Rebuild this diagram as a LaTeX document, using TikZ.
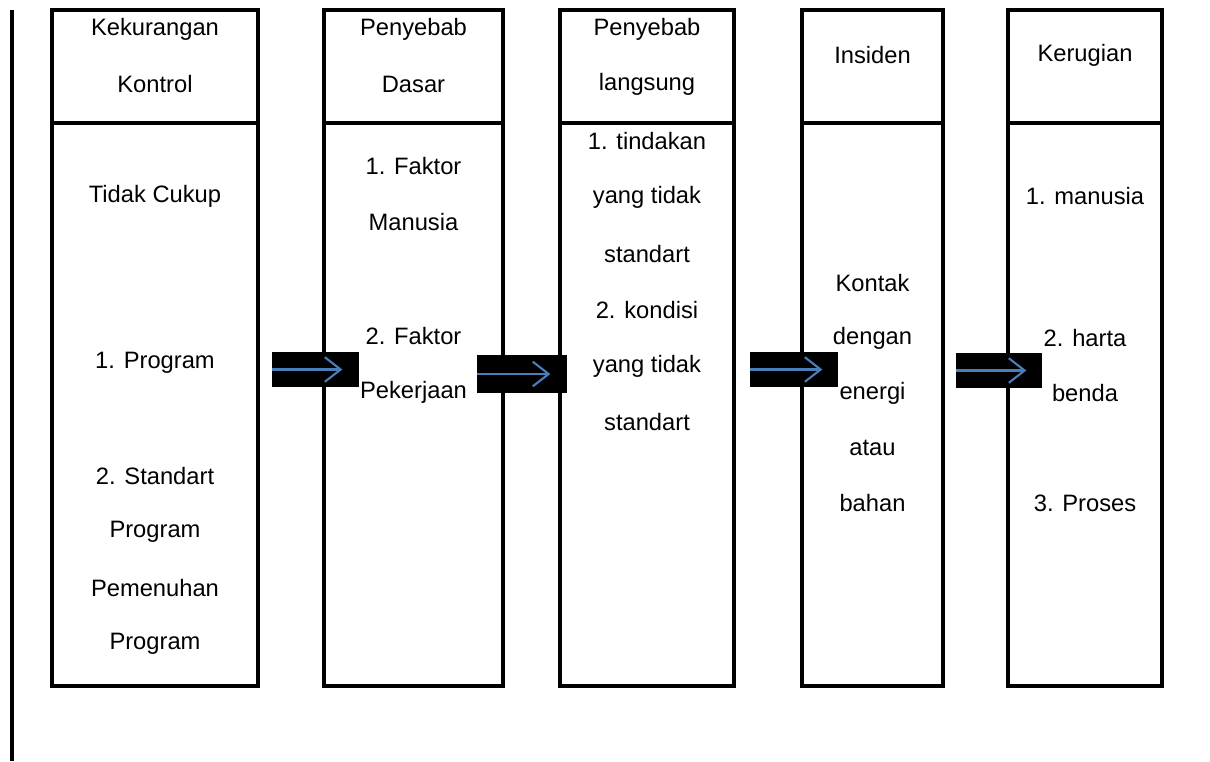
\documentclass[tikz,border=0pt]{standalone}
\usepackage{fontspec}
\setmainfont{Liberation Sans}
\usetikzlibrary{positioning,arrows.meta,calc}
\definecolor{panahbiru}{HTML}{4A7EBB}

\tikzset{
  kolom/.style={draw=black, line width=1.8pt},
  teks/.style={inner sep=0pt, font=\fontsize{13.5}{16}\selectfont},
  blok/.style={fill=black, inner sep=0pt},
  panah/.style={draw=panahbiru, line width=1.2pt, -{Straight Barb[length=9pt, width=14pt, line width=1.2pt]}}
}

\begin{document}
\begin{tikzpicture}[x=0.02cm,y=-0.02cm]
\useasboundingbox (0,0) rectangle (1210,761);
% garis kiri
\draw[line width=1.8pt] (12,10) -- (12,761);
% kolom
\draw[kolom] (52,10) rectangle (258,686);
\draw[kolom] (52,123) -- (258,123);
\draw[kolom] (324,10) rectangle (503,686);
\draw[kolom] (324,123) -- (503,123);
\draw[kolom] (560,10) rectangle (734,686);
\draw[kolom] (560,123) -- (734,123);
\draw[kolom] (802,10) rectangle (943,686);
\draw[kolom] (802,123) -- (943,123);
\draw[kolom] (1008,10) rectangle (1162,686);
\draw[kolom] (1008,123) -- (1162,123);

% Kekurangan Kontrol
\node[teks] (kk1) at (155,29) {Kekurangan};
\node[teks] (kk2) at (155,84) {Kontrol};
\node[teks] (kk3) at (155,196) {Tidak Cukup};
\node[teks] (kk4) at (155,363) {1. Program};
\node[teks] (kk5) at (155,476) {2. Standart};
\node[teks] (kk6) at (155,532) {Program};
\node[teks] (kk7) at (155,588) {Pemenuhan};
\node[teks] (kk8) at (155,644) {Program};

% Penyebab Dasar
\node[teks] (pd1) at (413.5,29) {Penyebab};
\node[teks] (pd2) at (413.5,84) {Dasar};
\node[teks] (pd3) at (413.5,166) {1. Faktor};
\node[teks] (pd4) at (413.5,222) {Manusia};
\node[teks] (pd5) at (413.5,336) {2. Faktor};
\node[teks] (pd6) at (413.5,392) {Pekerjaan};

% Penyebab langsung
\node[teks] (pl1) at (647,29) {Penyebab};
\node[teks] (pl2) at (647,84) {langsung};
\node[teks] (pl3) at (647,141) {1. tindakan};
\node[teks] (pl4) at (647,197) {yang tidak};
\node[teks] (pl5) at (647,254) {standart};
\node[teks] (pl6) at (647,310) {2. kondisi};
\node[teks] (pl7) at (647,366) {yang tidak};
\node[teks] (pl8) at (647,422) {standart};

% Insiden
\node[teks] (in1) at (872.5,55) {Insiden};
\node[teks] (in2) at (872.5,283) {Kontak};
\node[teks] (in3) at (872.5,338) {dengan};
\node[teks] (in4) at (872.5,393) {energi};
\node[teks] (in5) at (872.5,448) {atau};
\node[teks] (in6) at (872.5,503) {bahan};

% Kerugian
\node[teks] (kr1) at (1085,55) {Kerugian};
\node[teks] (kr2) at (1085,196) {1. manusia};
\node[teks] (kr3) at (1085,338) {2. harta};
\node[teks] (kr4) at (1085,393) {benda};
\node[teks] (kr5) at (1085,503) {3. Proses};

% panah
\node[blok, minimum width=1.74cm, minimum height=0.70cm] (a1) at (315.5,369.5) {};
\node[blok, minimum width=1.80cm, minimum height=0.76cm] (a2) at (522,374) {};
\node[blok, minimum width=1.76cm, minimum height=0.70cm] (a3) at (794,369.5) {};
\node[blok, minimum width=1.72cm, minimum height=0.70cm] (a4) at (999,370.5) {};
\draw[panah] (a1.west) -- ([xshift=-0.34cm]a1.east);
\draw[panah] (a2.west) -- ([xshift=-0.34cm]a2.east);
\draw[panah] (a3.west) -- ([xshift=-0.32cm]a3.east);
\draw[panah] (a4.west) -- ([xshift=-0.32cm]a4.east);
\end{tikzpicture}
\end{document}
